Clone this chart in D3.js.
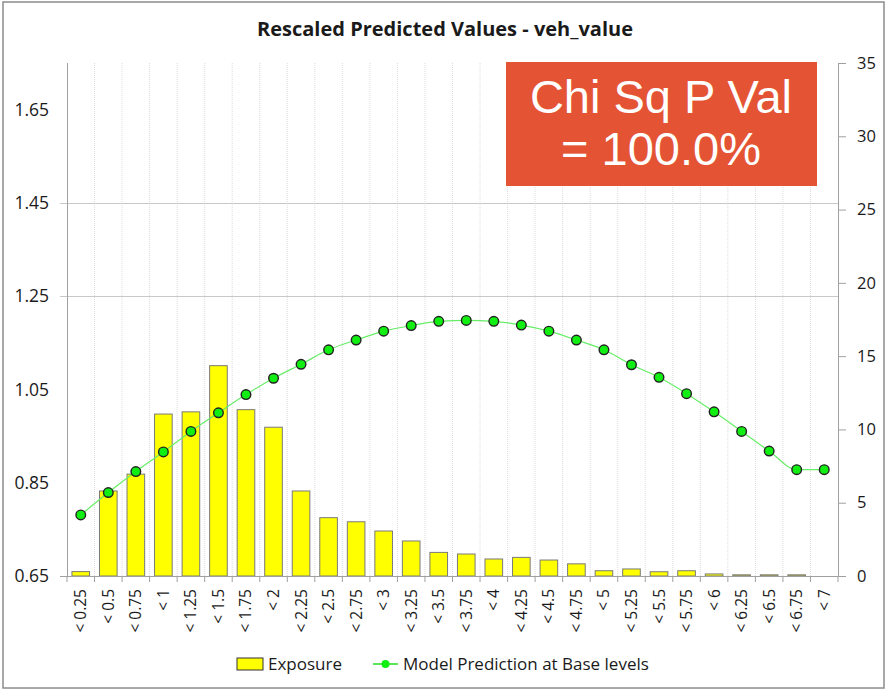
<!DOCTYPE html>
<html>
<head>
<meta charset="utf-8">
<script src="https://cdn.jsdelivr.net/npm/d3@7"></script>
<style>
  body { margin: 0; background: #fff; }
  svg text { font-family: "Open Sans", sans-serif; fill: #1a1a1a; }
</style>
</head>
<body>
<svg id="chart" width="886" height="694"></svg>
<script>
// chart values
var categories = ["< 0.25","< 0.5","< 0.75","< 1","< 1.25","< 1.5","< 1.75","< 2","< 2.25","< 2.5",
  "< 2.75","< 3","< 3.25","< 3.5","< 3.75","< 4","< 4.25","< 4.5","< 4.75","< 5",
  "< 5.25","< 5.5","< 5.75","< 6","< 6.25","< 6.5","< 6.75","< 7"];
var exposure = [0.3,5.8,6.95,11.05,11.2,14.35,11.35,10.15,5.8,3.98,
  3.7,3.07,2.39,1.61,1.5,1.16,1.27,1.09,0.83,0.36,
  0.48,0.29,0.36,0.14,0.08,0.08,0.08,0];
var prediction = [0.781,0.829,0.874,0.916,0.960,1.000,1.039,1.074,1.104,1.135,
  1.156,1.175,1.187,1.196,1.198,1.196,1.188,1.175,1.156,1.135,
  1.103,1.076,1.041,1.002,0.960,0.918,0.878,0.878];
var leftTicks = [0.65,0.85,1.05,1.25,1.45,1.65];
var leftGrid = [1.25,1.45];
var rightTicks = [0,5,10,15,20,25,30,35];
var title = "Rescaled Predicted Values - veh_value";
var seriesNames = ["Exposure", "Model Prediction at Base levels"];
var boxLines = ["Chi Sq P Val", "= 100.0%"];

var svg = d3.select("#chart");
var m = {left: 67, right: 838, top: 63, bottom: 576};

// outer frame
svg.append("rect").attr("x", 3).attr("y", 2).attr("width", 881).attr("height", 686)
  .attr("fill", "none").attr("stroke", "#8c8c8c").attr("stroke-width", 1.5);

var x = d3.scaleBand().domain(categories).range([m.left, m.right]).paddingInner(0.36).paddingOuter(0.18);
var yL = d3.scaleLinear().domain([0.65, 1.75]).range([m.bottom, m.top]);
var yR = d3.scaleLinear().domain([0, 35]).range([m.bottom, m.top]);
var step = x.step();

// vertical dotted gridlines at category boundaries
svg.append("g").selectAll("line")
  .data(d3.range(1, categories.length))
  .join("line")
  .attr("x1", function(i){ return m.left + i * step; })
  .attr("x2", function(i){ return m.left + i * step; })
  .attr("y1", m.top).attr("y2", m.bottom)
  .attr("stroke", "#dcdcdc").attr("stroke-dasharray", "1,1");

// horizontal gridlines
svg.append("g").selectAll("line")
  .data(leftGrid)
  .join("line")
  .attr("x1", m.left - 7).attr("x2", m.right)
  .attr("y1", function(d){ return Math.round(yL(d)) + 0.5; })
  .attr("y2", function(d){ return Math.round(yL(d)) + 0.5; })
  .attr("stroke", "#c8c8c8");

// bars
svg.append("g").selectAll("rect")
  .data(exposure)
  .join("rect")
  .attr("x", function(d, i){ return x(categories[i]); })
  .attr("width", x.bandwidth())
  .attr("y", function(d){ return yR(d); })
  .attr("height", function(d){ return m.bottom - yR(d); })
  .attr("fill", "#ffff00")
  .attr("stroke", "#7a7a7a")
  .attr("stroke-width", function(d){ return d > 0 ? 1 : 0; });

// axes lines
svg.append("line").attr("x1", m.left - 7).attr("x2", m.right + 7)
  .attr("y1", m.bottom + 0.5).attr("y2", m.bottom + 0.5).attr("stroke", "#a0a0a0");
svg.append("line").attr("x1", m.left + 0.5).attr("x2", m.left + 0.5)
  .attr("y1", m.top).attr("y2", m.bottom).attr("stroke", "#a0a0a0");

// x tick marks
svg.append("g").selectAll("line")
  .data(d3.range(0, categories.length + 1))
  .join("line")
  .attr("x1", function(i){ return m.left + i * step; })
  .attr("x2", function(i){ return m.left + i * step; })
  .attr("y1", m.bottom).attr("y2", m.bottom + 6)
  .attr("stroke", "#a0a0a0");

// x labels, rotated
svg.append("g").selectAll("text")
  .data(categories)
  .join("text")
  .attr("transform", function(d){
    return "translate(" + (x(d) + x.bandwidth() / 2 + 5.5) + "," + (m.bottom + 13) + ") rotate(-90)";
  })
  .attr("text-anchor", "end")
  .style("font-size", "15.5px")
  .text(function(d){ return d; });

// left axis
var gl = svg.append("g").attr("transform", "translate(" + m.left + ",0)")
  .call(d3.axisLeft(yL).tickValues(leftTicks).tickSize(0).tickPadding(18)
    .tickFormat(d3.format(".2f")));
gl.select(".domain").remove();
gl.selectAll("text").style("font-size", "17.5px").style("font-family", "'Open Sans', sans-serif").attr("fill", "#1a1a1a");

// right axis
var gr = svg.append("g").attr("transform", "translate(" + m.right + ",0)")
  .call(d3.axisRight(yR).tickValues(rightTicks).tickSize(8).tickPadding(11));
gr.select(".domain").attr("stroke", "#a0a0a0");
gr.selectAll(".tick line").attr("stroke", "#a0a0a0");
gr.selectAll("text").style("font-size", "16.5px").style("font-family", "'Open Sans', sans-serif").attr("fill", "#1a1a1a");

// prediction line
var line = d3.line()
  .x(function(d, i){ return x(categories[i]) + x.bandwidth() / 2; })
  .y(function(d){ return yL(d); })
  .curve(d3.curveMonotoneX);
svg.append("path").datum(prediction)
  .attr("d", line).attr("fill", "none")
  .attr("stroke", "#66ee66").attr("stroke-width", 1.2);
svg.append("g").selectAll("circle")
  .data(prediction)
  .join("circle")
  .attr("cx", function(d, i){ return x(categories[i]) + x.bandwidth() / 2; })
  .attr("cy", function(d){ return yL(d); })
  .attr("r", 4.8)
  .attr("fill", "#11ee11").attr("stroke", "#222").attr("stroke-width", 1.4);

// title
svg.append("text").attr("x", 445).attr("y", 36).attr("text-anchor", "middle")
  .style("font-size", "20px").style("font-weight", "bold").text(title);

// legend
var lg = svg.append("g");
lg.append("rect").attr("x", 237).attr("y", 658).attr("width", 26).attr("height", 12)
  .attr("fill", "#ffff00").attr("stroke", "#333");
lg.append("text").attr("x", 268).attr("y", 670).style("font-size", "17px").text(seriesNames[0]);
lg.append("line").attr("x1", 373).attr("x2", 398).attr("y1", 664).attr("y2", 664)
  .attr("stroke", "#22dd22").attr("stroke-width", 1.5);
lg.append("circle").attr("cx", 385.5).attr("cy", 664).attr("r", 4).attr("fill", "#11ee11");
lg.append("text").attr("x", 403).attr("y", 670).style("font-size", "17px").text(seriesNames[1]);

// red annotation box
svg.append("rect").attr("x", 506).attr("y", 62).attr("width", 311).attr("height", 124)
  .attr("fill", "#e45434");
svg.append("g").selectAll("text")
  .data(boxLines)
  .join("text")
  .attr("x", 661)
  .attr("y", function(d, i){ return 113 + i * 52; })
  .attr("text-anchor", "middle")
  .style("font-family", "'Liberation Sans', Arial, sans-serif")
  .style("font-size", "47px")
  .style("fill", "#ffffff")
  .text(function(d){ return d; });
</script>
</body>
</html>
